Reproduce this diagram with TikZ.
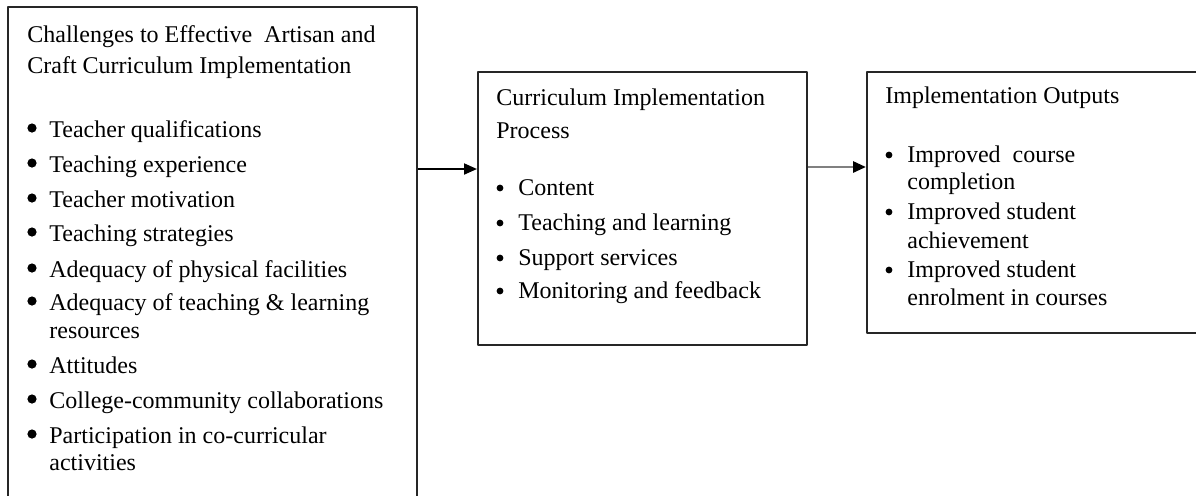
\documentclass[tikz,border=0pt]{standalone}
\usepackage{fontspec}
\setmainfont{Liberation Serif}
\usetikzlibrary{arrows.meta,fit}
\begin{document}
\begin{tikzpicture}[x=0.5pt,y=-0.5pt,>={Triangle[length=6.5pt,width=5.5pt]},line join=round,font=\fontsize{12}{14}\selectfont,
	box/.style={draw=black!85,line width=1pt,inner sep=0pt},
	txt/.style={anchor=base west,inner sep=0pt},
	bul/.style={circle,fill,inner sep=0pt,minimum size=3.4pt},
	bigbul/.style={circle,fill,inner sep=0pt,minimum size=4.6pt}]
	\useasboundingbox (0,0) rectangle (1196,495);
	\clip (0,0) rectangle (1196,495);
	% the three boxes
	\node[box,fit={(8,7) (417,520)}] (challenges) {};
	\node[box,fit={(478,72) (807,345)}] (process) {};
	\node[box,fit={(867,72) (1205,333)}] (outputs) {};
	% challenges
	\node[txt] (cht1) at (27,42) {Challenges to Effective\ \ Artisan and};
	\node[txt] (cht2) at (27,73) {Craft Curriculum Implementation};
	\foreach \y/\t [count=\i] in {137/Teacher qualifications,172/Teaching experience,207/Teacher motivation,241/Teaching strategies,277/Adequacy of physical facilities,310/Adequacy of teaching \& learning,338/resources,373/Attitudes,408/College-community collaborations,443/Participation in co-curricular,470/activities}
		{\node[txt] (ch\i) at (49,\y) {\t};}
	\foreach \y [count=\i] in {137,172,207,241,277,310,373,408,443}
		{\node[bigbul] (chb\i) at (32,\y-9) {};}
	% process
	\node[txt] (prt1) at (496,105) {Curriculum Implementation};
	\node[txt] (prt2) at (496,138) {Process};
	\foreach \y/\t [count=\i] in {195/Content,230/Teaching and learning,265/Support services,298/Monitoring and feedback}
		{\node[txt] (pr\i) at (518,\y) {\t}; \node[bul] (prb\i) at (500,\y-7) {};}
	% outputs
	\node[txt] (out0) at (885,103) {Implementation Outputs};
	\foreach \y/\t [count=\i] in {162/Improved\ \ course,189/completion,219/Improved student,248/achievement,277/Improved student,305/enrolment in courses}
		{\node[txt] (out\i) at (907,\y) {\t};}
	\foreach \y [count=\i] in {162,219,277}
		{\node[bul] (outb\i) at (889,\y-7) {};}
	% arrows
	\coordinate (a1) at (440,169);
	\coordinate (a2) at (835,167);
	\draw[->,line width=1pt] (challenges.east |- a1)--(process.west |- a1);
	\draw[-{Triangle[length=6.5pt,width=5.5pt,black]},line width=1.4pt,gray] (process.east |- a2)--(outputs.west |- a2);
\end{tikzpicture}
\end{document}
